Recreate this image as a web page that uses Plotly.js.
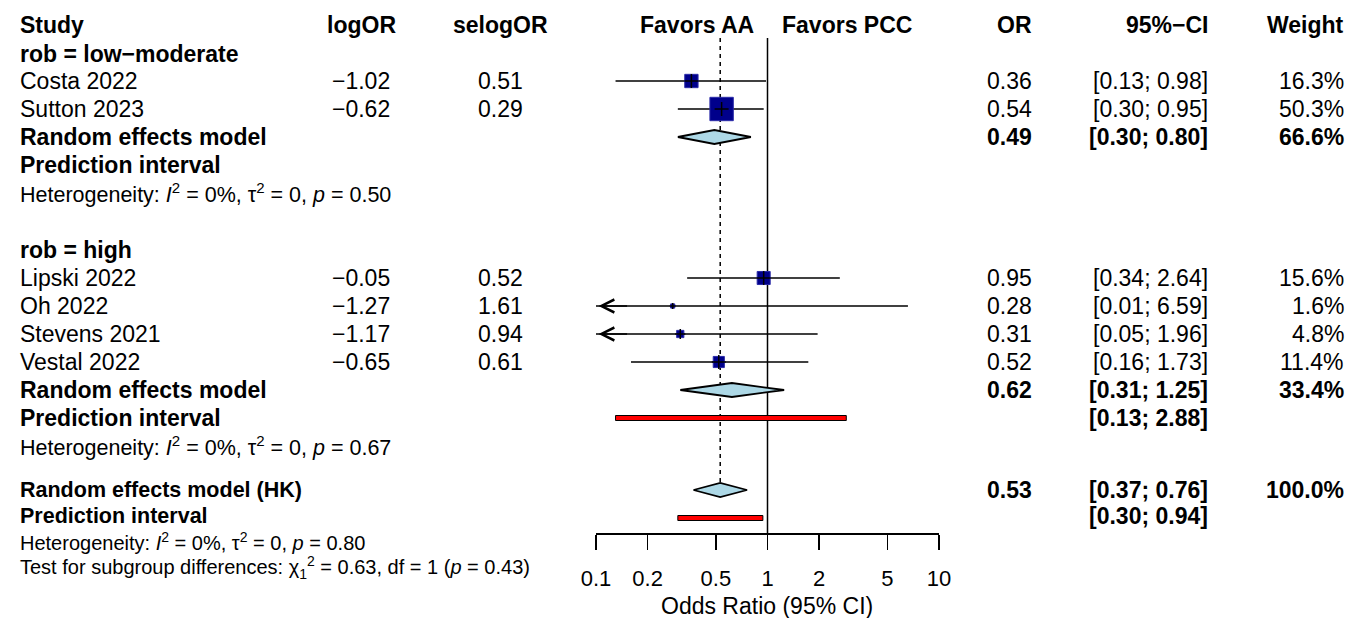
<!DOCTYPE html>
<html><head><meta charset="utf-8">
<script src="https://cdn.plot.ly/plotly-3.0.1.min.js"></script>
<style>html,body{margin:0;padding:0;background:#fff}#chart{width:1364px;height:618px}</style>
</head><body><div id="chart"></div>
<script>
// ---------------- data ----------------
const studies   = ['Costa 2022','Sutton 2023','Lipski 2022','Oh 2022','Stevens 2021','Vestal 2022'];
const studyGroup = [0,0,1,1,1,1];
const logOR     = [-1.02,-0.62,-0.05,-1.27,-1.17,-0.65];
const selogOR   = [0.51,0.29,0.52,1.61,0.94,0.61];
const orVals    = [0.36,0.54,0.95,0.28,0.31,0.52];
const ciLower   = [0.13,0.30,0.34,0.01,0.05,0.16];
const ciUpper   = [0.98,0.95,2.64,6.59,1.96,1.73];
const weights   = [16.3,50.3,15.6,1.6,4.8,11.4];

const groupLabels = ['rob = low\u2212moderate','rob = high'];
const reOR      = [0.49,0.62];
const reLower   = [0.30,0.31];
const reUpper   = [0.80,1.25];
const reWeight  = [66.6,33.4];
const piLower   = [null,0.13];
const piUpper   = [null,2.88];
const hetI2     = [0,0];
const hetTau2   = [0,0];
const hetP      = [0.50,0.67];

const overallLabel = 'Random effects model (HK)';
const overallOR = [0.53], overallLower = [0.37], overallUpper = [0.76], overallWeight = [100.0];
const overallPiLower = [0.30], overallPiUpper = [0.94];
const overallHet = {i2:0, tau2:0, p:0.80};
const subgroupTest = {chi2:0.63, df:1, p:0.43};

const tickVals  = [0.1,0.2,0.5,1,2,5,10];
const tickText  = ['0.1','0.2','0.5','1','2','5','10'];
const headers = {study:'Study', logOR:'logOR', selogOR:'selogOR', left:'Favors AA', right:'Favors PCC', or:'OR', ci:'95%\u2212CI', weight:'Weight'};
const xTitle = 'Odds Ratio (95% CI)';

// ---------------- layout constants (pixels) ----------------
const W = 1364, H = 618;
const FONT = 'Liberation Sans, Arial, Helvetica, sans-serif';
const rowsY = {
  header: 25,
  groups: [
    {label:54, studies:[81,109], re:137, pi:165, het:193},
    {label:250, studies:[278,306,334,362], re:390, pi:418, het:446}
  ],
  overall:490, overallPi:516, overallHet:541, test:567,
  refTop:38, axis:533
};
const col = {study:18, logOR:361, selogOR:500, leftLab:756, rightLab:780, or:1034, ci:1210, weight:1346};
const xMin = 0.1, xMax = 10;
const SMALL = 21.5, BOTTOM = 21.5, BOTTOM_SMALL = 20;

const fmt2 = v => v.toFixed(2).replace('-', '\u2212');
const fmtCI = (a,b) => '[' + a.toFixed(2) + '; ' + b.toFixed(2) + ']';
const fmtW = w => w.toFixed(1) + '%';
const hetText = (i2,t2,p) => 'Heterogeneity: <i>I</i><sup>2</sup> = ' + i2 + '%, \u03c4<sup>2</sup> = ' + t2 + ', <i>p</i> = ' + p.toFixed(2);

const annotations = [];
function txt(text, px, py, align, bold, size){
  annotations.push({
    xref:'paper', yref:'y', x:px/W, y:py,
    xanchor:align, yanchor:'middle', showarrow:false,
    text: bold ? '<b>'+text+'</b>' : text,
    font:{family:FONT, size:size||23, color:'#000'}
  });
}

// header
txt(headers.study, col.study, rowsY.header, 'left', true);
txt(headers.logOR, col.logOR, rowsY.header, 'center', true);
txt(headers.selogOR, col.selogOR, rowsY.header, 'center', true);
txt(headers.left, col.leftLab, rowsY.header, 'right', true);
txt(headers.right, col.rightLab, rowsY.header, 'left', true);
txt(headers.or, col.or, rowsY.header, 'right', true);
txt(headers.ci, col.ci, rowsY.header, 'right', true);
txt(headers.weight, col.weight, rowsY.header, 'right', true);

// traces
const traces = [];
// reference lines
traces.push({x:[overallOR[0],overallOR[0]], y:[rowsY.refTop, rowsY.overall-7], mode:'lines',
  line:{color:'#000', width:1.5, dash:'4px,4px'}, hoverinfo:'skip', showlegend:false});
traces.push({x:[1,1], y:[rowsY.refTop, rowsY.axis], mode:'lines',
  line:{color:'#000', width:1.5}, hoverinfo:'skip', showlegend:false});

const ciX = [], ciY = [], sqX = [], sqY = [], sqS = [], crS = [];
studies.forEach((s,i)=>{
  const g = studyGroup[i];
  const idx = studies.filter((_,j)=>studyGroup[j]===g).indexOf(s);
  const py = rowsY.groups[g].studies[idx];
  txt(s, col.study, py, 'left', false);
  txt(fmt2(logOR[i]), col.logOR, py, 'center', false);
  txt(selogOR[i].toFixed(2), col.selogOR, py, 'center', false);
  txt(orVals[i].toFixed(2), col.or, py, 'right', false);
  txt(fmtCI(ciLower[i], ciUpper[i]), col.ci, py, 'right', false);
  txt(fmtW(weights[i]), col.weight, py, 'right', false);
  const lo = Math.max(ciLower[i], xMin), hi = Math.min(ciUpper[i], xMax);
  ciX.push(lo, hi, null); ciY.push(py, py, null);
  sqX.push(orVals[i]); sqY.push(py);
  const sz = 3.3*Math.sqrt(weights[i]);
  sqS.push(sz); crS.push(Math.min(sz, 10));
  if (ciLower[i] < xMin) {
    annotations.push({xref:'x', yref:'y', x:Math.log10(xMin)+0.015, y:py, ax:30, ay:0, axref:'pixel', ayref:'pixel',
      text:'', showarrow:true, arrowhead:5, arrowsize:1.7, arrowwidth:1.5, arrowcolor:'#000'});
  }
});
traces.push({x:ciX, y:ciY, mode:'lines', line:{color:'#000', width:1.5}, hoverinfo:'skip', showlegend:false});
traces.push({x:sqX, y:sqY, mode:'markers', marker:{symbol:'square', size:sqS, opacity:1, color:'#00008B', line:{color:'#2a2aa8', width:1}}, hoverinfo:'skip', showlegend:false});
traces.push({x:sqX, y:sqY, mode:'markers', marker:{symbol:'cross-thin', size:crS, opacity:1, color:'#000', line:{color:'#000', width:1.5}}, hoverinfo:'skip', showlegend:false});

function diamond(est, lo, hi, py){
  traces.push({x:[lo, est, hi, est, lo], y:[py, py-7, py, py+7, py], mode:'lines', fill:'toself',
    fillcolor:'#ADD8E6', line:{color:'#000', width:1.8}, hoverinfo:'skip', showlegend:false});
}
function piBar(lo, hi, py){
  traces.push({x:[lo, hi, hi, lo, lo], y:[py-2.5, py-2.5, py+2.5, py+2.5, py-2.5], mode:'lines', fill:'toself',
    fillcolor:'#FF0000', line:{color:'#000', width:1}, hoverinfo:'skip', showlegend:false});
}

rowsY.groups.forEach((gr, g)=>{
  txt(groupLabels[g], col.study, gr.label, 'left', true);
  txt('Random effects model', col.study, gr.re, 'left', true);
  txt(fmt2(reOR[g]), col.or, gr.re, 'right', true);
  txt(fmtCI(reLower[g], reUpper[g]), col.ci, gr.re, 'right', true);
  txt(fmtW(reWeight[g]), col.weight, gr.re, 'right', true);
  diamond(reOR[g], reLower[g], reUpper[g], gr.re);
  txt('Prediction interval', col.study, gr.pi, 'left', true);
  if (piLower[g] !== null) {
    txt(fmtCI(piLower[g], piUpper[g]), col.ci, gr.pi, 'right', true);
    piBar(piLower[g], piUpper[g], gr.pi);
  }
  txt(hetText(hetI2[g], hetTau2[g], hetP[g]), col.study, gr.het, 'left', false, SMALL);
});

txt(overallLabel, col.study, rowsY.overall, 'left', true, BOTTOM);
txt(fmt2(overallOR[0]), col.or, rowsY.overall, 'right', true);
txt(fmtCI(overallLower[0], overallUpper[0]), col.ci, rowsY.overall, 'right', true);
txt(fmtW(overallWeight[0]), col.weight, rowsY.overall, 'right', true);
diamond(overallOR[0], overallLower[0], overallUpper[0], rowsY.overall);
txt('Prediction interval', col.study, rowsY.overallPi, 'left', true, BOTTOM);
txt(fmtCI(overallPiLower[0], overallPiUpper[0]), col.ci, rowsY.overallPi, 'right', true);
piBar(overallPiLower[0], overallPiUpper[0], rowsY.overallPi + 2);
txt(hetText(overallHet.i2, overallHet.tau2, overallHet.p), col.study, rowsY.overallHet, 'left', false, BOTTOM_SMALL);
txt('Test for subgroup differences: \u03c7<sub>1</sub><sup>2</sup> = ' + subgroupTest.chi2.toFixed(2) + ', df = ' + subgroupTest.df + ' (<i>p</i> = ' + subgroupTest.p.toFixed(2) + ')', col.study, rowsY.test, 'left', false, BOTTOM_SMALL);

// axis title
annotations.push({xref:'paper', yref:'y', x:767/W, y:606, xanchor:'center', yanchor:'middle', showarrow:false,
  text:xTitle, font:{family:FONT, size:23, color:'#000'}});

const layout = {
  width:W, height:H, margin:{l:0, r:0, t:0, b:0}, paper_bgcolor:'#fff', plot_bgcolor:'rgba(0,0,0,0)',
  showlegend:false, font:{family:FONT, color:'#000'},
  xaxis:{type:'log', range:[Math.log10(xMin), Math.log10(xMax)], domain:[596/W, 939/W],
    anchor:'free', position:1 - rowsY.axis/H, showgrid:false, zeroline:false,
    showline:true, linecolor:'#000', linewidth:1.5, ticks:'outside', ticklen:15, tickwidth:1.5, tickcolor:'#000',
    tickmode:'array', tickvals:tickVals, ticktext:tickText, tickfont:{family:FONT, size:22, color:'#000'},
    ticklabelstandoff:10, fixedrange:true},
  yaxis:{range:[H, 0], domain:[0,1], visible:false, fixedrange:true},
  annotations:annotations
};
Plotly.newPlot('chart', traces, layout, {displayModeBar:false, staticPlot:true});
</script></body></html>
